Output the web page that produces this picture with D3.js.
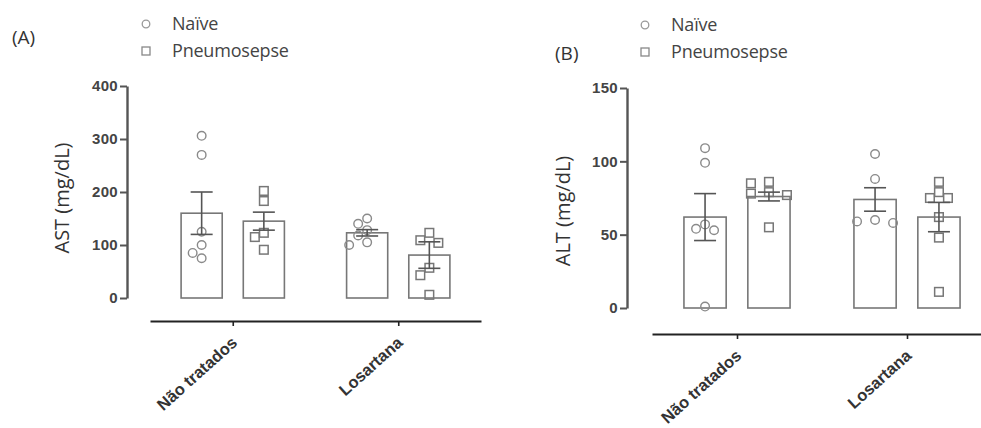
<!DOCTYPE html>
<html>
<head>
<meta charset="utf-8">
<script src="https://cdn.jsdelivr.net/npm/d3@7"></script>
<style>
  body { margin: 0; background: #fff; }
  svg { display: block; font-family: "Liberation Sans", Arial, sans-serif; }
</style>
</head>
<body>
<svg></svg>
<script>
const width = 981;
const height = 428;

// data
const categories = ["Não tratados", "Losartana"];
const groups = ["Naïve", "Pneumosepse"];

const astMean = [[160, 145], [123, 81]];
const astSem = [[40, 17], [6, 25]];
const astPoints = [
  [[306, 270, 125, 100, 85, 75], [202, 183, 123, 115, 91]],
  [[150, 140, 128, 118, 105, 100], [123, 109, 104, 57, 43, 6]]
];
const astTicks = [0, 100, 200, 300, 400];

const altMean = [[62, 76], [74, 62]];
const altSem = [[16, 3], [8, 10]];
const altPoints = [
  [[109, 99, 57, 54, 53, 1], [86, 85, 79, 78, 77, 55]],
  [[105, 88, 60, 59, 58], [86, 79, 75, 75, 62, 48, 11]]
];
const altTicks = [0, 50, 100, 150];

let svg = d3.select("svg").attr("width", width).attr("height", height);

function panel(opt) {
  let g = svg.append("g");

  let y = d3.scaleLinear().domain(opt.domain).range([opt.y0, opt.y1]);
  let x = d3.scalePoint().domain(categories).range([opt.xa, opt.xb]).padding(0.5);
  let step = x.step();
  let sub = d3.scaleBand().domain(groups).range([-step / 2, step / 2])
      .paddingInner(0.339).paddingOuter(0.5);
  let bw = sub.bandwidth();

  // bars
  categories.forEach((c, i) => {
    groups.forEach((s, j) => {
      let bx = x(c) + sub(s);
      let cx = bx + bw / 2;
      g.append("rect")
        .attr("x", bx)
        .attr("y", y(opt.mean[i][j]))
        .attr("width", bw)
        .attr("height", y(0) - y(opt.mean[i][j]))
        .style("fill", "none")
        .style("stroke", "#777")
        .style("stroke-width", 1.6);

      // points, spread sideways so they don't overlap
      let placed = [];
      let r = 4.3;
      opt.points[i][j].forEach(v => {
        let py = y(v);
        let k = 0, off = 0;
        while (true) {
          off = (k === 0) ? 0 : (k % 2 ? -1 : 1) * Math.ceil(k / 2) * 9;
          if (!placed.some(p => Math.hypot(p[0] - off, p[1] - py) < 2 * r + 1)) break;
          k++;
        }
        placed.push([off, py]);
        if (j === 0) {
          g.append("circle")
            .attr("cx", cx + off)
            .attr("cy", py)
            .attr("r", r)
            .style("fill", "none")
            .style("stroke", "#8a8a8a")
            .style("stroke-width", 1.4);
        } else {
          g.append("rect")
            .attr("x", cx + off - r)
            .attr("y", py - r)
            .attr("width", 2 * r)
            .attr("height", 2 * r)
            .style("fill", "none")
            .style("stroke", "#777")
            .style("stroke-width", 1.5);
        }
      });

      // error bar (mean ± SEM)
      let top = y(opt.mean[i][j] + opt.sem[i][j]);
      let bot = y(opt.mean[i][j] - opt.sem[i][j]);
      let eb = g.append("g").style("stroke", "#555").style("stroke-width", 1.6);
      eb.append("line").attr("x1", cx).attr("x2", cx).attr("y1", top).attr("y2", bot);
      eb.append("line").attr("x1", cx - 11).attr("x2", cx + 11).attr("y1", top).attr("y2", top);
      eb.append("line").attr("x1", cx - 11).attr("x2", cx + 11).attr("y1", bot).attr("y2", bot);
    });
  });

  // y axis
  let ya = g.append("g")
    .attr("transform", "translate(" + opt.axisX + ",0)")
    .call(d3.axisLeft(y).tickValues(opt.ticks).tickSize(7).tickPadding(2).tickSizeOuter(0));
  ya.select(".domain").style("stroke", "#555").style("stroke-width", 2.4);
  ya.selectAll(".tick line").style("stroke", "#555").style("stroke-width", 2);
  ya.selectAll(".tick text")
    .style("font-size", "15px")
    .style("font-weight", "bold")
    .style("fill", "#444")
    .style("letter-spacing", "0.3px");

  // x axis (offset below)
  let xa = g.append("g")
    .attr("transform", "translate(0," + opt.axisY + ")")
    .call(d3.axisBottom(x).tickSize(5).tickSizeOuter(0));
  xa.select(".domain").style("stroke", "#222").style("stroke-width", 2.2);
  xa.selectAll(".tick line").style("stroke", "#222").style("stroke-width", 1.6);
  xa.selectAll(".tick text")
    .attr("text-anchor", "end")
    .attr("x", 0).attr("y", 0).attr("dy", 0)
    .attr("transform", "translate(5,23) rotate(-42)")
    .style("font-size", "16.5px")
    .style("font-weight", "bold")
    .style("fill", "#333");

  // axis title
  g.append("text")
    .attr("transform", "translate(" + opt.titleX + "," + opt.titleY + ") rotate(-90)")
    .attr("text-anchor", "middle")
    .attr("dy", "0.35em")
    .style("font-family", "'Open Sans', sans-serif")
    .style("font-size", "20px")
    .style("fill", "#333")
    .text(opt.title);

  // panel letter
  g.append("text")
    .attr("x", opt.letterX).attr("y", opt.letterY)
    .attr("dy", "0.35em")
    .style("font-family", "'Open Sans', sans-serif")
    .style("font-size", "19px")
    .style("fill", "#333")
    .text(opt.letter);

  // legend
  groups.forEach((s, j) => {
    let ly = opt.legY + j * 27;
    if (j === 0) {
      g.append("circle").attr("cx", opt.legX).attr("cy", ly).attr("r", 3.8)
        .style("fill", "none").style("stroke", "#999").style("stroke-width", 1.3);
    } else {
      g.append("rect").attr("x", opt.legX - 4).attr("y", ly - 4).attr("width", 8).attr("height", 8)
        .style("fill", "none").style("stroke", "#888").style("stroke-width", 1.3);
    }
    g.append("text")
      .attr("x", opt.legX + 26).attr("y", ly)
      .attr("dy", "0.35em")
      .style("font-family", "'Open Sans', sans-serif")
      .style("font-size", "18px")
      .style("fill", "#444")
      .style("letter-spacing", "-0.2px")
      .text(s);
  });
}

panel({
  domain: [0, 400], y0: 298, y1: 86, ticks: astTicks,
  xa: 150, xb: 481, axisX: 127, axisY: 321,
  mean: astMean, sem: astSem, points: astPoints,
  title: "AST (mg/dL)", titleX: 62, titleY: 198,
  letter: "(A)", letterX: 12, letterY: 37,
  legX: 146, legY: 24
});

panel({
  domain: [0, 150], y0: 308, y1: 88, ticks: altTicks,
  xa: 652, xb: 992, axisX: 627, axisY: 334,
  mean: altMean, sem: altSem, points: altPoints,
  title: "ALT (mg/dL)", titleX: 563, titleY: 211,
  letter: "(B)", letterX: 555, letterY: 53,
  legX: 645, legY: 25
});
</script>
</body>
</html>
